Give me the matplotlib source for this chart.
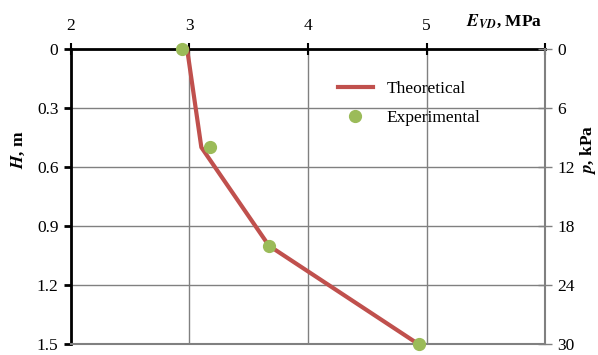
import numpy as np
import matplotlib
matplotlib.use("Agg")
import matplotlib.pyplot as plt

plt.rcParams['font.family'] = ['Liberation Serif', 'DejaVu Serif']
plt.rcParams['mathtext.fontset'] = 'stix'

# Données
H_theo = [0, 0.5, 1.0, 1.5]
E_theo = [2.98, 3.10, 3.67, 4.93]
H_exp = [0, 0.5, 1.0, 1.5]
E_exp = [2.94, 3.17, 3.67, 4.94]

x_ticks = [2, 3, 4, 5, 6]
x_labels = ["2", "3", "4", "5", ""]
h_ticks = [0, 0.3, 0.6, 0.9, 1.2, 1.5]
h_labels = ["0", "0.3", "0.6", "0.9", "1.2", "1.5"]
p_ticks = [0, 6, 12, 18, 24, 30]

RED = "#C0504D"
GREEN = "#9BBB59"
GRID = "#808080"
FS = 12.5

fig = plt.figure(figsize=(5.98, 3.55), dpi=100)
ax = fig.add_axes([0.1187, 0.031, 0.7927, 0.831])

ax.plot(E_theo, H_theo, color=RED, lw=3, label="Theoretical", zorder=3, clip_on=False)
ax.plot(E_exp, H_exp, ls="none", marker="o", ms=8.5, color=GREEN, label="Experimental",
        zorder=4, clip_on=False)

ax.set_xlim(2, 6)
ax.set_ylim(1.5, 0)
ax.xaxis.tick_top()
ax.set_xticks(x_ticks)
ax.set_xticklabels(x_labels)
ax.set_yticks(h_ticks)
ax.set_yticklabels(h_labels)
ax.grid(True, color=GRID, lw=1)
ax.set_axisbelow(True)

ax.spines["right"].set_visible(False)
ax.spines["bottom"].set_color(GRID)
ax.spines["bottom"].set_linewidth(1.5)
ax.spines["top"].set_linewidth(2)
ax.spines["left"].set_linewidth(2)
ax.tick_params(axis="x", direction="inout", length=9, width=1.5, labelsize=FS, pad=6)
ax.tick_params(axis="y", direction="out", length=5, width=2, labelsize=FS, pad=4)

ax2 = ax.twinx()
ax2.set_ylim(30, 0)
ax2.set_yticks(p_ticks)
ax2.spines["right"].set_color(GRID)
ax2.spines["right"].set_linewidth(1.5)
for s in ["top", "left", "bottom"]:
    ax2.spines[s].set_visible(False)
ax2.tick_params(axis="y", direction="inout", length=10, width=1, color=GRID, labelsize=FS, pad=4)

fig.text(0.03, 0.578, "$\\mathbfit{H}$, m", rotation=90, fontsize=FS, fontweight="bold",
         ha="center", va="center")
fig.text(0.984, 0.578, "$\\mathbfit{p}$, kPa", rotation=90, fontsize=FS, fontweight="bold",
         ha="center", va="center")
fig.text(0.843, 0.94, "$\\mathbfit{E}_{\\mathbfit{VD}}$, MPa", fontsize=FS, fontweight="bold",
         ha="center", va="center")

ax.legend(loc="upper left", bbox_to_anchor=(0.53, 0.945), frameon=False, fontsize=FS,
          handlelength=2.0, labelspacing=0.75, handletextpad=0.8)

plt.savefig("out.png", dpi=100)
